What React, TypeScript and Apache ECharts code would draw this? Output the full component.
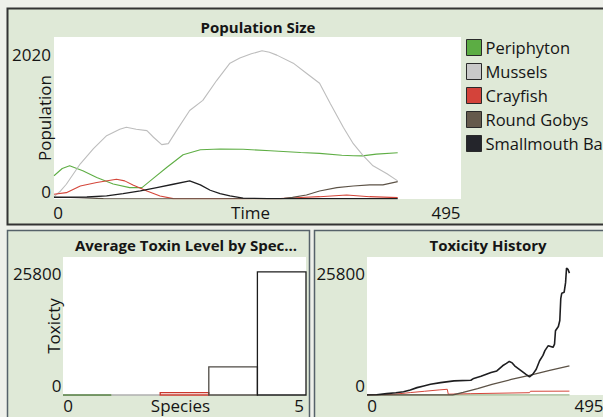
import React, { useEffect, useRef } from 'react';
import * as echarts from 'echarts';

const FONT = '"Open Sans", "Noto Sans", sans-serif';
const INK = '#151515';

const speciesNames = ['Periphyton', 'Mussels', 'Crayfish', 'Round Gobys', 'Smallmouth Bass'];
const speciesFill = ['#5cad44', '#c9c9c9', '#d4433a', '#655a4c', '#24252b'];
const speciesLine = ['#5fae45', '#bdbdbd', '#d4463a', '#5c5246', '#1e1e20'];

const timeTicks = [0, 495];
const popTicks = [0, 2020];
const toxTicks = [0, 25800];
const speciesTicks = [0, 5];

// Population Size (time, population)
const popPeriphyton = [[0, 290], [10, 380], [19, 414], [35, 351], [52, 268], [72, 188], [92, 142], [107, 142], [120, 251], [137, 393], [157, 552], [178, 615], [202, 623], [230, 620], [263, 602], [300, 580], [323, 569], [350, 545], [364, 540], [375, 538], [392, 560], [418, 577]];
const popMussels = [[0, 30], [8, 100], [15, 184], [32, 439], [48, 627], [64, 790], [80, 870], [88, 895], [100, 870], [113, 853], [121, 770], [131, 678], [139, 690], [149, 853], [165, 1104], [181, 1230], [198, 1480], [214, 1694], [226, 1757], [240, 1810], [253, 1848], [262, 1830], [271, 1794], [291, 1694], [307, 1568], [323, 1443], [336, 1192], [352, 891], [364, 690], [376, 540], [388, 414], [405, 314], [418, 226]];
const popCrayfish = [[0, 60], [15, 79], [32, 163], [52, 205], [76, 247], [86, 226], [96, 176], [113, 100], [129, 38], [145, 5], [200, 3], [275, 5], [300, 18], [323, 29], [356, 50], [384, 29], [418, 17]];
const popGobys = [[0, 25], [30, 15], [60, 5], [200, 3], [280, 8], [290, 20], [307, 50], [323, 100], [344, 142], [364, 163], [384, 176], [400, 176], [418, 217]];
const popBass = [[0, 20], [40, 25], [64, 38], [84, 67], [105, 100], [125, 142], [145, 184], [165, 226], [178, 176], [190, 109], [202, 67], [214, 38], [230, 10], [260, 4], [418, 4]];

// Toxicity History (time, toxicity)
const toxPeriphyton = [[0, 0], [421, 0]];
const toxMussels = [[0, 0], [421, 0]];
const toxCrayfish = [[0, 0], [30, 50], [55, 125], [90, 450], [120, 700], [150, 950], [167, 1070], [169, 150], [216, 250], [338, 430], [340, 700], [421, 720]];
const toxGobys = [[0, 0], [178, 0], [200, 500], [230, 1200], [260, 2000], [300, 2900], [340, 3700], [380, 4600], [421, 5460]];
const toxBass = [[0, 0], [20, 60], [41, 250], [60, 420], [76, 620], [90, 950], [104, 1380], [118, 1700], [132, 2010], [153, 2320], [181, 2640], [216, 2760], [222, 3100], [237, 3500], [258, 4200], [270, 4500], [282, 5460], [290, 5900], [296, 6270], [302, 6000], [307, 5460], [321, 4520], [330, 3900], [338, 3390], [345, 3900], [352, 4800], [359, 6400], [366, 7400], [370, 8290], [377, 9230], [387, 8910], [390, 9500], [392, 12000], [398, 12800], [401, 13930], [403, 18000], [405, 19020], [410, 19200], [413, 21000], [415, 23730], [418, 23500], [421, 22780]];

// Average Toxin Level by Species (species index 0..4)
const avgToxin = [0, 0, 430, 5270, 23030];
const barStroke = ['#4f7a3c', '#b0b0b0', '#c9372d', '#4e4a44', '#1c1c1c'];

const tick = (size: number) => ({ fontSize: size, fontFamily: FONT, color: INK });

function axisBase() {
  return {
    axisLine: { show: false },
    axisTick: { show: false },
    splitLine: { show: false },
    nameMoveOverlap: false,
  };
}

export default function App() {
  const ref = useRef<HTMLDivElement>(null);
  useEffect(() => {
    if (!ref.current) return;
    const chart = echarts.init(ref.current, undefined, { renderer: 'svg' });

    const lineSeries = (name: string, data: number[][], color: string, fill: string, width: number, idx: number) => ({
      type: 'line',
      name,
      data,
      xAxisIndex: idx,
      yAxisIndex: idx,
      showSymbol: false,
      symbol: 'none',
      lineStyle: { color, width },
      itemStyle: { color: fill },
      silent: true,
    });

    const popData = [popPeriphyton, popMussels, popCrayfish, popGobys, popBass];
    const toxData = [toxPeriphyton, toxMussels, toxCrayfish, toxGobys, toxBass];
    const toxWidths = [1, 1, 1, 1.3, 1.6];

    const yLabel = (hiPad: number, loPad: number, margin: number) => ({
      margin,
      ...tick(17),
      formatter: (v: number) => (v === 0 ? `{lo|${v}}` : `{hi|${v}}`),
      rich: {
        hi: { ...tick(17), padding: [hiPad, 0, 0, 0] },
        lo: { ...tick(17), padding: [0, 0, loPad, 0] },
      },
    });
    const xLabel = (loPad: number, hiPad: number, margin: number) => ({
      margin,
      ...tick(17),
      formatter: (v: number) => (v === 0 ? `{lo|${v}}` : `{hi|${v}}`),
      rich: {
        lo: { ...tick(17), padding: [0, 0, 0, loPad] },
        hi: { ...tick(17), padding: [0, hiPad, 0, 0] },
      },
    });

    const gridBase = { show: true, backgroundColor: '#ffffff', borderWidth: 0, outerBoundsMode: 'none', containLabel: false };

    const option: any = {
      animation: false,
      backgroundColor: '#eef0ea',
      textStyle: { fontFamily: FONT },
      graphic: [
        { type: 'rect', z: -10, shape: { x: 7.5, y: 8.5, width: 600, height: 216 }, style: { fill: '#dfe9d7', stroke: '#333', lineWidth: 2 } },
        { type: 'rect', z: -10, shape: { x: 7.5, y: 230.5, width: 302, height: 200 }, style: { fill: '#dfe9d7', stroke: '#56626a', lineWidth: 1.5 } },
        { type: 'rect', z: -10, shape: { x: 314.5, y: 230.5, width: 300, height: 200 }, style: { fill: '#dfe9d7', stroke: '#56626a', lineWidth: 1.5 } },
        { type: 'text', z: 10, x: 258, y: 27, style: { text: 'Population Size', font: `bold 15px ${FONT}`, fill: INK, textAlign: 'center', textVerticalAlign: 'middle' } },
        { type: 'text', z: 10, x: 186, y: 245, style: { text: 'Average Toxin Level by Spec...', font: `bold 15px ${FONT}`, fill: INK, textAlign: 'center', textVerticalAlign: 'middle' } },
        { type: 'text', z: 10, x: 488, y: 245, style: { text: 'Toxicity History', font: `bold 15px ${FONT}`, fill: INK, textAlign: 'center', textVerticalAlign: 'middle' } },
      ],
      legend: {
        data: speciesNames,
        orient: 'vertical',
        left: 466,
        top: 39,
        padding: 0,
        icon: 'rect',
        itemWidth: 15,
        itemHeight: 16,
        itemGap: 7,
        selectedMode: false,
        itemStyle: { borderColor: '#2a2a2a', borderWidth: 1 },
        textStyle: { fontSize: 16.5, fontFamily: FONT, color: INK, lineHeight: 16, padding: [0, 0, 0, -1] },
      },
      grid: [
        { ...gridBase, left: 54, top: 37, width: 407, height: 162 },
        { ...gridBase, left: 63, top: 257, width: 243, height: 138 },
        { ...gridBase, left: 367, top: 257, width: 238, height: 138 },
      ],
      xAxis: [
        {
          type: 'value', gridIndex: 0, min: timeTicks[0], max: timeTicks[1], interval: timeTicks[1],
          ...axisBase(),
          name: 'Time', nameLocation: 'middle', nameGap: 5,
          nameTextStyle: { ...tick(17), padding: [0, 14, 0, 0] },
          axisLabel: xLabel(8, 30, 5),
        },
        {
          type: 'value', gridIndex: 1, min: speciesTicks[0], max: speciesTicks[1], interval: speciesTicks[1],
          ...axisBase(),
          name: 'Species', nameLocation: 'middle', nameGap: 2,
          nameTextStyle: { ...tick(17), padding: [0, 8, 0, 0] },
          axisLabel: xLabel(10, 14, 2),
        },
        {
          type: 'value', gridIndex: 2, min: timeTicks[0], max: timeTicks[1], interval: timeTicks[1],
          ...axisBase(),
          axisLabel: xLabel(10, 32, 2),
        },
      ],
      yAxis: [
        {
          type: 'value', gridIndex: 0, min: popTicks[0], max: popTicks[1], interval: popTicks[1],
          ...axisBase(),
          name: 'Population', nameLocation: 'middle', nameGap: 1,
          nameTextStyle: tick(17),
          axisLabel: yLabel(34, 16, 3),
        },
        {
          type: 'value', gridIndex: 1, min: toxTicks[0], max: toxTicks[1], interval: toxTicks[1],
          ...axisBase(),
          name: 'Toxicty', nameLocation: 'middle', nameGap: 1,
          nameTextStyle: tick(17),
          axisLabel: yLabel(33, 20, 1.5),
        },
        {
          type: 'value', gridIndex: 2, min: toxTicks[0], max: toxTicks[1], interval: toxTicks[1],
          ...axisBase(),
          axisLabel: yLabel(33, 20, 2),
        },
      ],
      series: [
        ...speciesNames.map((n, i) => lineSeries(n, popData[i], speciesLine[i], speciesFill[i], i === 4 ? 1.3 : 1.1, 0)),
        {
          type: 'custom',
          name: 'Average Toxin',
          xAxisIndex: 1,
          yAxisIndex: 1,
          silent: true,
          encode: { x: 0, y: 1 },
          data: avgToxin.map((v, i) => [i, v]),
          renderItem: (params: any, api: any) => {
            const i = api.value(0);
            const v = api.value(1);
            const p0 = api.coord([i, 0]);
            const p1 = api.coord([i + 1, v]);
            return {
              type: 'polygon',
              shape: { points: [[p0[0], p0[1]], [p0[0], p1[1]], [p1[0], p1[1]], [p1[0], p0[1]]] },
              style: { fill: 'none', stroke: barStroke[i], lineWidth: 1.3 },
            };
          },
        },
        ...speciesNames.map((n, i) => lineSeries('Toxicity ' + n, toxData[i], speciesLine[i], speciesFill[i], toxWidths[i], 2)),
      ],
    };
    chart.setOption(option);
    return () => chart.dispose();
  }, []);
  return <div ref={ref} style={{ position: 'fixed', left: 0, top: 0, width: 603, height: 417 }} />;
}
